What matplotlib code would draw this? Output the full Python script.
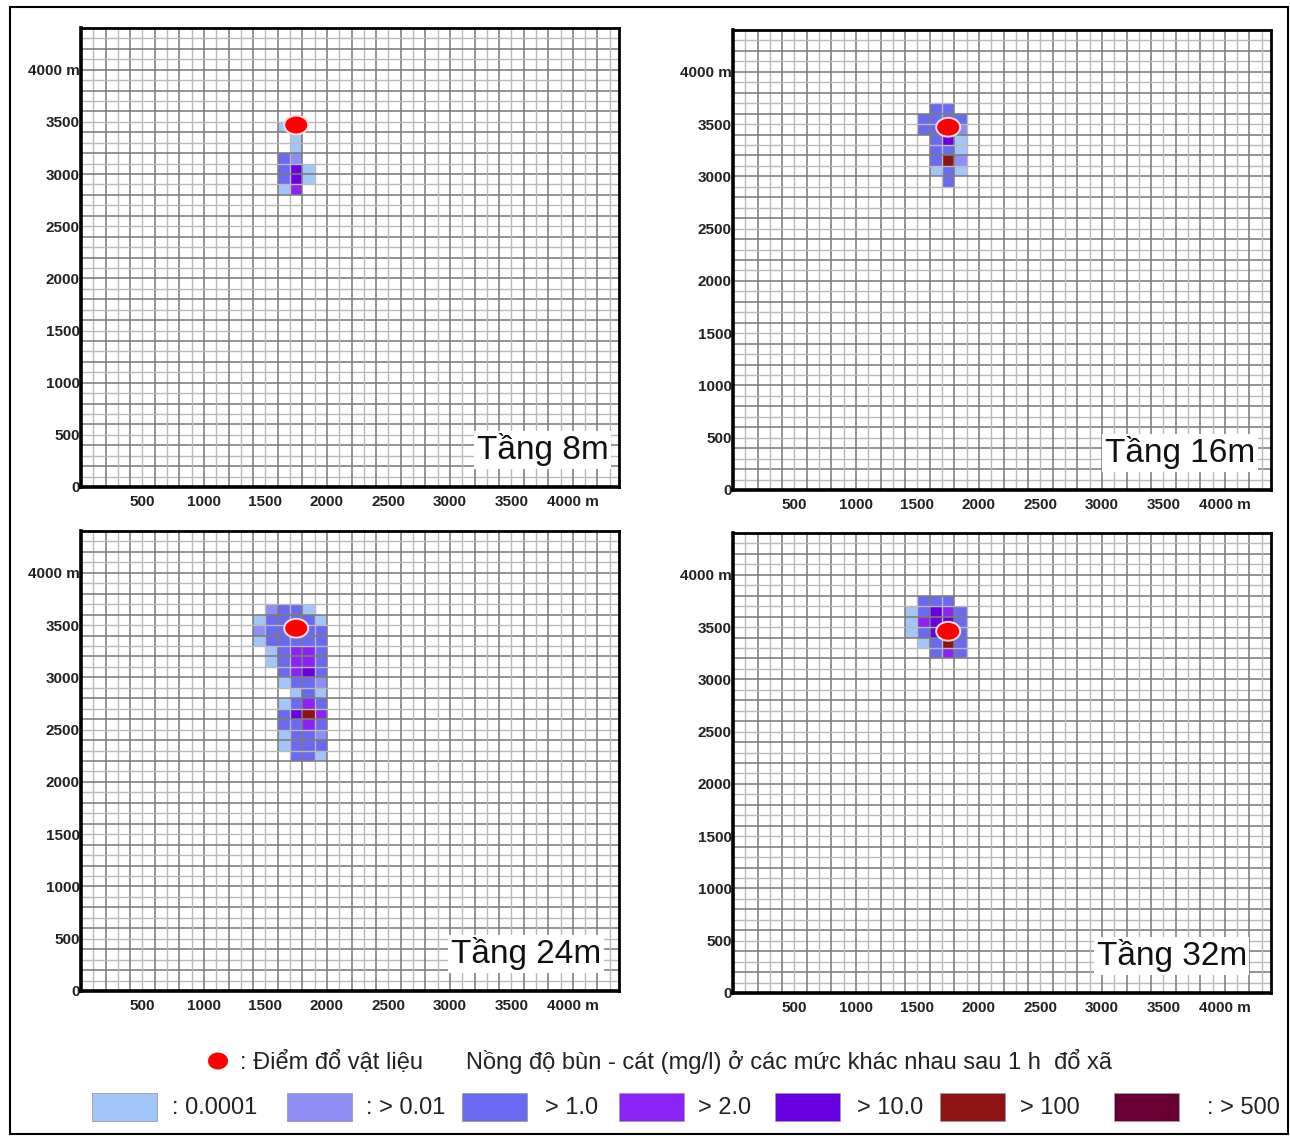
import numpy as np
import matplotlib
matplotlib.use('Agg')
import matplotlib.pyplot as plt
from matplotlib.colors import ListedColormap, BoundaryNorm
from matplotlib.patches import Ellipse, Rectangle

plt.rcParams['font.family'] = ['Liberation Sans', 'DejaVu Sans']

# ---------------- data ----------------
panel_titles = ['Tầng 8m', 'Tầng 16m', 'Tầng 24m', 'Tầng 32m']
x_ticks = [500, 1000, 1500, 2000, 2500, 3000, 3500, 4000]
x_tick_labels = ['500', '1000', '1500', '2000', '2500', '3000', '3500', '4000 m']
y_ticks = [0, 500, 1000, 1500, 2000, 2500, 3000, 3500, 4000]
y_tick_labels = ['0', '500', '1000', '1500', '2000', '2500', '3000', '3500', '4000 m']

level_labels = [': 0.0001', ': > 0.01', '> 1.0', '> 2.0', '> 10.0', '> 100', ': > 500']
level_colors = ['#A3C6F8', '#8E8EF4', '#6A6AF0', '#8C22F6', '#6A00E2', '#8E1414', '#690034']

dot_label = ': Điểm đổ vật liệu'
legend_title = 'Nồng độ bùn - cát (mg/l) ở các mức khác nhau sau 1 h  đổ xã'

# dump point (m) per panel
dump_x = [1750, 1750, 1750, 1750]
dump_y = [3470, 3470, 3470, 3460]

# cells: left edge x (m), bottom edge y (m), concentration level index
p8_x = [1600, 1700, 1700, 1600, 1700, 1600, 1700, 1800, 1600, 1700, 1800, 1600, 1700]
p8_y = [3400, 3300, 3200, 3100, 3100, 3000, 3000, 3000, 2900, 2900, 2900, 2800, 2800]
p8_lv = [0, 0, 0, 2, 1, 2, 4, 0, 2, 4, 0, 0, 3]

p16_x = [1600, 1700,
         1500, 1600, 1700, 1800,
         1500, 1600, 1800,
         1600, 1700, 1800,
         1600, 1700, 1800,
         1600, 1700, 1800,
         1600, 1700, 1800,
         1700]
p16_y = [3600, 3600,
         3500, 3500, 3500, 3500,
         3400, 3400, 3400,
         3300, 3300, 3300,
         3200, 3200, 3200,
         3100, 3100, 3100,
         3000, 3000, 3000,
         2900]
p16_lv = [2, 2,
          2, 2, 2, 2,
          2, 2, 1,
          2, 4, 0,
          2, 2, 0,
          2, 5, 1,
          0, 2, 0,
          2]

p24_x = [1500, 1600, 1700, 1800,
         1400, 1500, 1600, 1700, 1800, 1900,
         1400, 1500, 1600, 1800, 1900,
         1400, 1500, 1600, 1700, 1800, 1900,
         1500, 1600, 1700, 1800, 1900,
         1500, 1600, 1700, 1800, 1900,
         1600, 1700, 1800, 1900,
         1600, 1700, 1800, 1900,
         1700, 1800, 1900,
         1600, 1700, 1800, 1900,
         1600, 1700, 1800, 1900,
         1600, 1700, 1800, 1900,
         1600, 1700, 1800, 1900,
         1600, 1700, 1800, 1900,
         1700, 1800, 1900]
p24_y = [3600, 3600, 3600, 3600,
         3500, 3500, 3500, 3500, 3500, 3500,
         3400, 3400, 3400, 3400, 3400,
         3300, 3300, 3300, 3300, 3300, 3300,
         3200, 3200, 3200, 3200, 3200,
         3100, 3100, 3100, 3100, 3100,
         3000, 3000, 3000, 3000,
         2900, 2900, 2900, 2900,
         2800, 2800, 2800,
         2700, 2700, 2700, 2700,
         2600, 2600, 2600, 2600,
         2500, 2500, 2500, 2500,
         2400, 2400, 2400, 2400,
         2300, 2300, 2300, 2300,
         2200, 2200, 2200]
p24_lv = [1, 2, 2, 0,
          0, 2, 2, 2, 2, 0,
          1, 2, 2, 2, 2,
          0, 2, 2, 2, 2, 2,
          0, 2, 3, 3, 2,
          0, 2, 3, 3, 2,
          2, 3, 4, 2,
          0, 2, 2, 1,
          0, 2, 0,
          0, 2, 3, 2,
          2, 4, 5, 3,
          2, 2, 3, 2,
          0, 2, 2, 1,
          0, 2, 2, 2,
          2, 2, 0]

p32_x = [1500, 1600, 1700,
         1400, 1500, 1600, 1700, 1800,
         1400, 1500, 1600, 1700, 1800,
         1400, 1500, 1600, 1800,
         1500, 1600, 1700, 1800,
         1600, 1700, 1800]
p32_y = [3700, 3700, 3700,
         3600, 3600, 3600, 3600, 3600,
         3500, 3500, 3500, 3500, 3500,
         3400, 3400, 3400, 3400,
         3300, 3300, 3300, 3300,
         3200, 3200, 3200]
p32_lv = [2, 2, 2,
          0, 2, 4, 3, 2,
          0, 3, 4, 4, 2,
          0, 2, 4, 2,
          0, 2, 5, 2,
          2, 3, 2]

panels = [(p8_x, p8_y, p8_lv), (p16_x, p16_y, p16_lv),
          (p24_x, p24_y, p24_lv), (p32_x, p32_y, p32_lv)]

# ---------------- layout ----------------
W, H = 1290, 1136
fig = plt.figure(figsize=(W / 100, H / 100), dpi=100)
fig.patch.set_facecolor('white')

def fx(px):
    return px / W

def fy(py):
    return 1 - py / H

axes_px = [(81, 28, 619, 487), (733, 30, 1271, 490),
           (81, 531, 619, 991), (733, 533, 1271, 993)]
title_x = [0.981, 0.970, 0.967, 0.955]

cell = 100
xmax, ymax = 4375, 4400
x_edges = np.arange(0, 4500, cell)
y_edges = np.arange(0, 4500, cell)
cmap = ListedColormap(level_colors)
norm = BoundaryNorm(np.arange(-0.5, len(level_colors) + 0.5, 1), cmap.N)

for i, (l, t, r, b) in enumerate(axes_px):
    ax = fig.add_axes([fx(l), fy(b), fx(r) - fx(l), fy(t) - fy(b)])
    cx, cy, lv = panels[i]
    Z = np.full((len(y_edges) - 1, len(x_edges) - 1), np.nan)
    for xx, yy, vv in zip(cx, cy, lv):
        Z[int(yy // cell), int(xx // cell)] = vv
    ax.pcolormesh(x_edges, y_edges, np.ma.masked_invalid(Z), cmap=cmap, norm=norm,
                  zorder=1)
    for v in range(cell, 4400, cell):
        dark = (v % 200 == 0)
        col = '#7c7c7c' if dark else '#b9b9b9'
        lw = 1.15 if dark else 1.0
        ax.axvline(v, color=col, lw=lw, zorder=2)
        ax.axhline(v, color=col, lw=lw, zorder=2)
    ax.add_patch(Ellipse((dump_x[i], dump_y[i]), width=195, height=180,
                         facecolor='#FF0000', edgecolor='#f6dede', lw=1.4, zorder=5))
    ax.set_xlim(0, xmax)
    ax.set_ylim(0, ymax)
    ax.set_xticks(x_ticks)
    ax.set_xticklabels(x_tick_labels)
    ax.set_yticks(y_ticks)
    ax.set_yticklabels(y_tick_labels)
    ax.tick_params(length=0, labelsize=11, colors='#222222')
    ax.tick_params(axis='x', pad=6)
    ax.tick_params(axis='y', pad=1)
    for lab in ax.get_xticklabels() + ax.get_yticklabels():
        lab.set_fontweight('bold')
    for side, sp in ax.spines.items():
        sp.set_color('black')
        sp.set_linewidth(2.6 if side in ('left', 'bottom') else 2.0)
        sp.set_zorder(6)
    ax.text(title_x[i], 0.045, panel_titles[i], transform=ax.transAxes,
            ha='right', va='bottom', fontsize=24, color='#111111', zorder=7,
            bbox=dict(facecolor='white', edgecolor='none', pad=2))

# ---------------- legend ----------------
fig.add_artist(Ellipse((fx(218), fy(1061)), width=20 / W, height=17 / H,
                       transform=fig.transFigure, facecolor='#FF0000', edgecolor='none'))
fig.text(fx(240), fy(1062), dot_label, ha='left', va='center', fontsize=17, color='#222222')
fig.text(fx(466), fy(1062), legend_title, ha='left', va='center', fontsize=17, color='#222222')

patch_left = [92, 287, 462, 619, 775, 940, 1114]
label_left = [172, 366, 545, 698, 857, 1020, 1207]
for j in range(len(level_colors)):
    fig.add_artist(Rectangle((fx(patch_left[j]), fy(1121)), 65 / W, 28 / H,
                             transform=fig.transFigure, facecolor=level_colors[j],
                             edgecolor='#9a9aaa', lw=0.6))
    fig.text(fx(label_left[j]), fy(1108), level_labels[j], ha='left', va='center',
             fontsize=17, color='#222222')

# outer frame
fig.add_artist(Rectangle((fx(10), fy(1134)), (1288 - 10) / W, (1134 - 7) / H,
                         transform=fig.transFigure, facecolor='none',
                         edgecolor='black', lw=1.5))

fig.savefig('out.png', dpi=100, facecolor='white')
